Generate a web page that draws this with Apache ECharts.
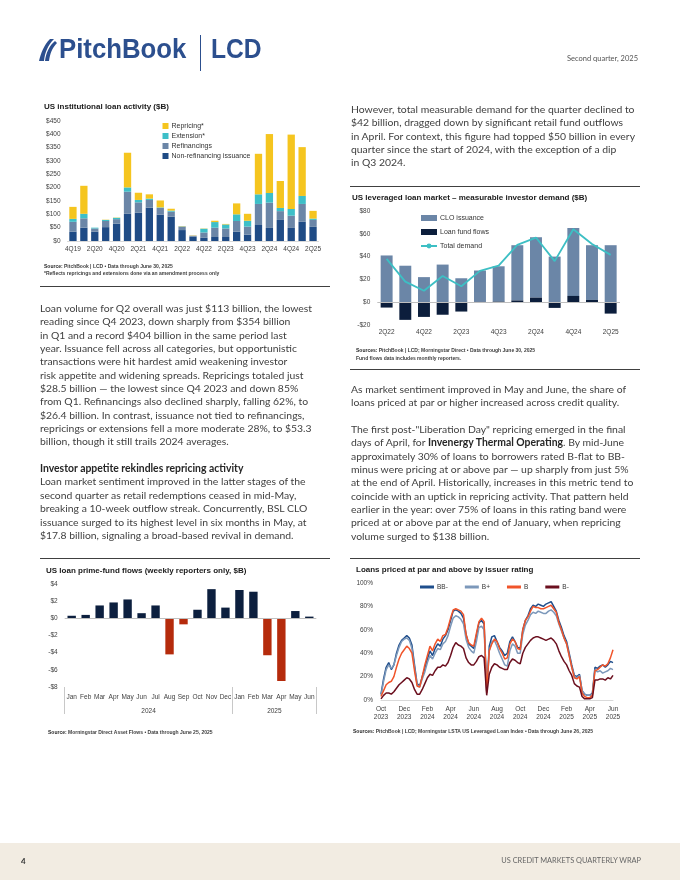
<!DOCTYPE html>
<html><head><meta charset="utf-8">
<script src="https://cdn.jsdelivr.net/npm/echarts@6/dist/echarts.min.js"></script>
<style>
html,body{margin:0;padding:0;width:680px;height:880px;overflow:hidden;background:#fff;}
#chart{position:absolute;left:0;top:0;width:680px;height:880px;z-index:2;}
.ov{position:absolute;z-index:3;}
.txt{position:absolute;z-index:3;font-family:Lato,'Open Sans',sans-serif;font-size:10.4px;line-height:13.35px;color:#404040;white-space:nowrap;}
.txt b{color:#262626;}
.rule{position:absolute;z-index:3;height:1px;background:#404040;}
</style></head><body>
<div class="ov" style="left:0;top:843px;width:680px;height:37px;background:#F2ECE2;z-index:1;"></div>
<div id="chart"></div>

<!-- header -->
<svg class="ov" style="left:36px;top:37px" width="22" height="26" viewBox="0 0 22 26">
  <path d="M3 24 C5 16 8 8 14 2 L18 2 C12 8 9 15 8 24 Z" fill="#2C4F8E"/>
  <path d="M9 24 C10 16 13 9 19 4 L21 6 C16 11 14 17 13 24 Z" fill="#2C4F8E"/>
</svg>
<div class="ov" style="left:59px;top:35px;font-family:'Liberation Sans',Arial,sans-serif;font-weight:bold;font-size:28px;line-height:28px;color:#2C4F8E;transform:scaleX(0.92);transform-origin:left top;white-space:nowrap;">PitchBook</div>
<div class="ov" style="left:200px;top:35px;width:1px;height:36px;background:#2C4F8E;"></div>
<div class="ov" style="left:211px;top:35px;font-family:'Liberation Sans',Arial,sans-serif;font-weight:bold;font-size:28px;line-height:28px;color:#2C4F8E;transform:scaleX(0.88);transform-origin:left top;white-space:nowrap;">LCD</div>
<div class="ov" style="left:567px;top:55px;font-family:Lato,sans-serif;font-size:7.5px;line-height:8px;color:#555;white-space:nowrap;">Second quarter, 2025</div>

<!-- rules -->
<div class="rule" style="left:40px;top:286px;width:290px;"></div>
<div class="rule" style="left:350px;top:186px;width:290px;"></div>
<div class="rule" style="left:350px;top:369px;width:290px;"></div>
<div class="rule" style="left:40px;top:558px;width:290px;"></div>
<div class="rule" style="left:350px;top:558px;width:290px;"></div>

<!-- left text -->
<div class="txt" style="left:40px;top:302px;">Loan volume for Q2 overall was just $113 billion, the lowest<br>reading since Q4 2023, down sharply from $354 billion<br>in Q1 and a record $404 billion in the same period last<br>year. Issuance fell across all categories, but opportunistic<br>transactions were hit hardest amid weakening investor<br>risk appetite and widening spreads. Repricings totaled just<br>$28.5 billion — the lowest since Q4 2023 and down 85%<br>from Q1. Refinancings also declined sharply, falling 62%, to<br>$26.4 billion. In contrast, issuance not tied to refinancings,<br>repricings or extensions fell a more moderate 28%, to $53.3<br>billion, though it still trails 2024 averages.<br>&nbsp;<br><b>Investor appetite rekindles repricing activity</b><br>Loan market sentiment improved in the latter stages of the<br>second quarter as retail redemptions ceased in mid-May,<br>breaking a 10-week outflow streak. Concurrently, BSL CLO<br>issuance surged to its highest level in six months in May, at<br>$17.8 billion, signaling a broad-based revival in demand.</div>

<!-- right text -->
<div class="txt" style="left:351px;top:103px;">However, total measurable demand for the quarter declined to<br>$42 billion, dragged down by significant retail fund outflows<br>in April. For context, this figure had topped $50 billion in every<br>quarter since the start of 2024, with the exception of a dip<br>in Q3 2024.</div>
<div class="txt" style="left:351px;top:383px;">As market sentiment improved in May and June, the share of<br>loans priced at par or higher increased across credit quality.<br>&nbsp;<br>The first post-"Liberation Day" repricing emerged in the final<br>days of April, for <b>Invenergy Thermal Operating</b>. By mid-June<br>approximately 30% of loans to borrowers rated B-flat to BB-<br>minus were pricing at or above par — up sharply from just 5%<br>at the end of April. Historically, increases in this metric tend to<br>coincide with an uptick in repricing activity. That pattern held<br>earlier in the year: over 75% of loans in this rating band were<br>priced at or above par at the end of January, when repricing<br>volume surged to $138 billion.</div>

<!-- footer -->
<div class="ov" style="left:21px;top:856px;font-family:Lato,sans-serif;font-weight:bold;font-size:8px;line-height:10px;color:#333;">4</div>
<div class="ov" style="left:480px;top:857px;width:161px;text-align:right;font-family:Lato,sans-serif;font-size:7.4px;line-height:8px;color:#666;white-space:nowrap;">US CREDIT MARKETS QUARTERLY WRAP</div>

<script>
// ---------- Chart 1: US institutional loan activity ($B)
var quarters1 = ['4Q19','1Q20','2Q20','3Q20','4Q20','1Q21','2Q21','3Q21','4Q21','1Q22','2Q22','3Q22','4Q22','1Q23','2Q23','3Q23','4Q23','1Q24','2Q24','3Q24','4Q24','1Q25','2Q25'];
var nonRefi = [35,50,35,52,65,102,106,125,99,91,41,16,12,15,15,35,24,60,49,79,49,72,53];
var refinancings = [37,35,12,23,17,83,39,29,25,19,13,4,20,35,32,40,30,79,95,33,46,67,26];
var extensions = [11,17,3,4,5,16,9,5,2,4,1,0,14,21,15,25,22,36,36,12,25,30,5];
var repricings = [45,105,0,1,1,130,27,16,26,7,1,1,1,5,2,41,26,152,221,101,279,183,29];

// ---------- Chart 2: measurable investor demand ($B)
var quarters2 = ['2Q22','3Q22','4Q22','1Q23','2Q23','3Q23','4Q23','1Q24','2Q24','3Q24','4Q24','1Q25','2Q25'];
var cloIssuance = [41,32,22,33,21,27.5,31,48.5,53,40,59.5,48,50];
var loanFundFlows = [-4.7,-15.5,-12.9,-11,-8.2,0.3,0.5,1.5,4,-5,5.5,2,-10];
var totalDemand = [38,18,10,23,14,27.5,32,50.3,56.7,36,64,51,41.5];

// ---------- Chart 3: prime-fund flows ($B)
var months3 = ['Jan','Feb','Mar','Apr','May','Jun','Jul','Aug','Sep','Oct','Nov','Dec','Jan','Feb','Mar','Apr','May','Jun'];
var primeFlows = [0.3,0.4,1.5,1.85,2.2,0.6,1.5,-4.2,-0.7,1.0,3.4,1.25,3.3,3.1,-4.3,-7.3,0.85,0.2];
var years3 = ['2024','2025'];

// ---------- Chart 4: loans priced at par and above (%), weekly readings
var tickLabels4 = ['Oct\n2023','Dec\n2023','Feb\n2024','Apr\n2024','Jun\n2024','Aug\n2024','Oct\n2024','Dec\n2024','Feb\n2025','Apr\n2025','Jun\n2025'];
var bbMinus = [5,18,28,32,26,30,40,47,51,53,55,53,47,30,14,12,20,27,35,42,38,44,48,46,52,55,60,68,76,77,76,74,70,56,48,46,44,55,66,68,65,8,46,54,55,50,45,42,38,40,50,54,50,45,44,60,68,72,78,81,80,82,81,80,82,83,84,80,76,68,62,55,50,40,30,21,20,22,8,5,4,4,6,28,27,29,30,28,30,33,32];
var bPlus = [4,16,26,30,27,30,38,45,50,52,53,51,44,28,13,11,18,24,32,38,35,40,44,43,48,50,55,63,70,72,71,69,65,52,45,42,40,50,62,63,60,7,42,50,51,46,40,35,30,29,42,48,46,40,40,56,64,68,73,75,74,76,75,74,74,76,77,75,72,65,59,53,48,38,28,20,19,21,8,5,4,4,5,26,24,25,23,24,25,27,26];
var bFlat = [3,8,13,15,16,20,28,35,40,43,46,44,40,25,12,11,20,30,38,46,42,48,52,50,55,56,62,70,77,78,77,76,73,56,49,47,46,57,67,70,67,6,42,48,52,50,44,40,35,36,48,52,50,44,43,60,68,71,76,80,79,79,78,78,79,80,81,78,75,66,60,53,48,38,28,19,18,20,6,3,2,2,4,25,26,28,30,29,31,36,43];
var bMinus = [1,4,6,6,5,7,10,13,15,17,19,18,15,9,5,5,9,14,19,22,21,25,28,28,30,29,32,38,45,49,47,46,44,36,32,30,30,33,37,38,36,4,22,28,31,30,28,27,26,26,32,35,34,32,31,40,45,48,51,53,54,54,53,52,51,52,53,51,48,42,37,33,30,25,21,14,12,11,3,1,1,1,2,17,17,18,18,17,19,18,21];
var weeks4 = [];
(function(){var s=Date.UTC(2023,9,2);for(var i=0;i<bbMinus.length;i++){weeks4.push(new Date(s+i*7*864e5).toISOString().slice(0,10));}})();

var FONT = "'Liberation Sans Narrow','Arial Narrow','Liberation Sans',Arial,sans-serif";
var AX = {fontSize:6.5,color:'#404040',fontFamily:FONT};
function dollar(v){return v<0?'-$'+Math.abs(v):'$'+v;}

var chart = echarts.init(document.getElementById('chart'),null,{renderer:'canvas'});
var titleStyle = {fontSize:8,fontWeight:'bold',color:'#1a1a1a',fontFamily:FONT,lineHeight:10};
var srcStyle = {fontSize:5,color:'#404040',fontFamily:FONT,lineHeight:7.3,rich:{b:{fontSize:5,fontWeight:'bold',color:'#262626',fontFamily:FONT,lineHeight:7.3}}};
var legText = {fontSize:7,color:'#333',fontFamily:FONT,lineHeight:8,padding:[0,0,0,-2]};
var zeroLine = {silent:true,symbol:'none',label:{show:false},lineStyle:{color:'#bfbfbf',width:1,type:'solid'},data:[{yAxis:0}]};

chart.setOption({
  animation:false,
  backgroundColor:'transparent',
  textStyle:{fontFamily:FONT},
  title:[
    {text:'US institutional loan activity ($B)',left:44,top:102,padding:0,textStyle:titleStyle},
    {text:'{b|Source:} PitchBook | LCD • Data through June 30, 2025\n*Reflects repricings and extensions done via an amendment process only',left:44,top:262.5,padding:0,textStyle:srcStyle},
    {text:'US leveraged loan market – measurable investor demand ($B)',left:352,top:193,padding:0,textStyle:titleStyle},
    {text:'{b|Sources:} PitchBook | LCD; Morningstar Direct • Data through June 30, 2025\nFund flows data includes monthly reporters.',left:356,top:347.3,padding:0,textStyle:srcStyle},
    {text:'US loan prime-fund flows (weekly reporters only, $B)',left:46,top:566,padding:0,textStyle:titleStyle},
    {text:'{b|Source:} Morningstar Direct Asset Flows • Data through June 25, 2025',left:48,top:728.5,padding:0,textStyle:srcStyle},
    {text:'Loans priced at par and above by issuer rating',left:356,top:564.3,padding:0,textStyle:titleStyle},
    {text:'{b|Sources:} PitchBook | LCD; Morningstar LSTA US Leveraged Loan Index • Data through June 26, 2025',left:353,top:727.5,padding:0,textStyle:srcStyle}
  ],
  legend:[
    {orient:'vertical',left:162.5,top:122,padding:0,itemWidth:6,itemHeight:6,itemGap:2,icon:'rect',
     data:['Repricing*','Extension*','Refinancings','Non-refinancing issuance'],textStyle:legText},
    {orient:'vertical',left:420,top:214,padding:0,itemWidth:16,itemHeight:6,itemGap:6,
     data:[{name:'CLO issuance',icon:'rect'},{name:'Loan fund flows',icon:'rect'},{name:'Total demand'}],textStyle:legText},
    {orient:'horizontal',left:420,top:583,padding:0,itemWidth:14,itemHeight:3,itemGap:17,icon:'rect',
     data:['BB-','B+','B','B-'],textStyle:Object.assign({},legText,{fontSize:6.5})}
  ],
  grid:[
    {left:67.5,top:121,width:251,height:120},
    {left:377.3,top:211,width:242.7,height:114},
    {left:64.7,top:584,width:251.6,height:103},
    {left:381,top:583,width:232,height:117}
  ],
  xAxis:[
    {type:'category',gridIndex:0,data:quarters1,axisTick:{show:false},axisLine:{lineStyle:{color:'#d9d9d9'}},
     axisLabel:Object.assign({interval:1,margin:5},AX)},
    {type:'category',gridIndex:1,data:quarters2,axisTick:{show:false},axisLine:{show:false},
     axisLabel:Object.assign({interval:1,margin:4},AX)},
    {type:'category',gridIndex:2,data:months3,axisTick:{show:false},axisLine:{show:false},
     axisLabel:Object.assign({interval:0,margin:7},AX)},
    {type:'value',gridIndex:2,min:0,max:18,position:'bottom',axisLine:{show:false},splitLine:{show:false},
     axisTick:{show:true,customValues:[0,12,18],length:27,lineStyle:{color:'#c8c8c8'}},
     axisLabel:Object.assign({customValues:[6,15],margin:21,formatter:function(v){return v<12?years3[0]:years3[1];}},AX)},
    {type:'category',gridIndex:3,data:weeks4,boundaryGap:false,axisTick:{show:false},axisLine:{lineStyle:{color:'#d9d9d9'}},
     axisLabel:Object.assign({interval:8,margin:5,lineHeight:8,formatter:function(v,i){return tickLabels4[Math.round(i/9)];}},AX)}
  ],
  yAxis:[
    {type:'value',gridIndex:0,min:0,max:450,interval:50,splitLine:{show:false},axisLine:{show:false},axisTick:{show:false},
     axisLabel:Object.assign({formatter:dollar,margin:7},AX)},
    {type:'value',gridIndex:1,min:-20,max:80,interval:20,splitLine:{show:false},axisLine:{show:false},axisTick:{show:false},
     axisLabel:Object.assign({formatter:dollar,margin:7},AX)},
    {type:'value',gridIndex:2,min:-8,max:4,interval:2,splitLine:{show:false},axisLine:{show:false},axisTick:{show:false},
     axisLabel:Object.assign({formatter:dollar,margin:7},AX)},
    {type:'value',gridIndex:3,min:0,max:100,interval:20,splitLine:{show:false},axisLine:{show:false},axisTick:{show:false},
     axisLabel:Object.assign({formatter:function(v){return v+'%';},margin:8},AX)}
  ],
  series:[
    {name:'Non-refinancing issuance',type:'bar',stack:'act',xAxisIndex:0,yAxisIndex:0,data:nonRefi,barCategoryGap:'33%',itemStyle:{color:'#1F4B85'}},
    {name:'Refinancings',type:'bar',stack:'act',xAxisIndex:0,yAxisIndex:0,data:refinancings,itemStyle:{color:'#6B86A7'}},
    {name:'Extension*',type:'bar',stack:'act',xAxisIndex:0,yAxisIndex:0,data:extensions,itemStyle:{color:'#3DBFC8'}},
    {name:'Repricing*',type:'bar',stack:'act',xAxisIndex:0,yAxisIndex:0,data:repricings,itemStyle:{color:'#F5C51F'}},

    {name:'Loan fund flows',type:'bar',stack:'dem',xAxisIndex:1,yAxisIndex:1,data:loanFundFlows,barCategoryGap:'36%',itemStyle:{color:'#0C1E3C'},z:3},
    {name:'CLO issuance',type:'bar',stack:'dem',xAxisIndex:1,yAxisIndex:1,data:cloIssuance,itemStyle:{color:'#6B86A7'},markLine:zeroLine,z:2},
    {name:'Total demand',type:'line',xAxisIndex:1,yAxisIndex:1,data:totalDemand,symbol:'none',lineStyle:{color:'#3DBFC4',width:1.8},itemStyle:{color:'#3DBFC4'},z:5},

    {name:'Prime fund flows',type:'bar',xAxisIndex:2,yAxisIndex:2,data:primeFlows,barCategoryGap:'40%',
     itemStyle:{color:function(p){return p.value<0?'#B52B0C':'#0C1F3E';}},markLine:zeroLine},

    {name:'BB-',type:'line',xAxisIndex:4,yAxisIndex:3,data:bbMinus,symbol:'none',lineStyle:{color:'#1F4E8C',width:1.5},itemStyle:{color:'#1F4E8C'}},
    {name:'B+',type:'line',xAxisIndex:4,yAxisIndex:3,data:bPlus,symbol:'none',lineStyle:{color:'#7C98BA',width:1.5},itemStyle:{color:'#7C98BA'}},
    {name:'B',type:'line',xAxisIndex:4,yAxisIndex:3,data:bFlat,symbol:'none',lineStyle:{color:'#F0542A',width:1.5},itemStyle:{color:'#F0542A'}},
    {name:'B-',type:'line',xAxisIndex:4,yAxisIndex:3,data:bMinus,symbol:'none',lineStyle:{color:'#6B0F1E',width:1.5},itemStyle:{color:'#6B0F1E'}}
  ]
});
</script>
</body></html>
